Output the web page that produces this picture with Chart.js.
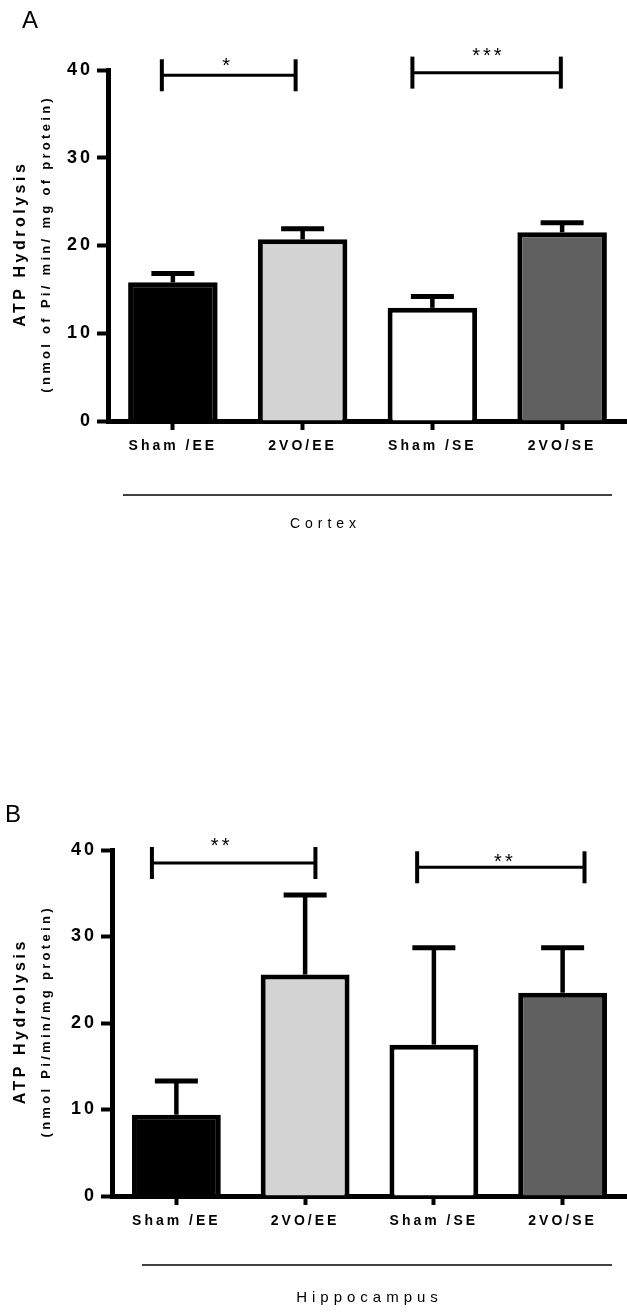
<!DOCTYPE html>
<html>
<head>
<meta charset="utf-8">
<script src="https://cdn.jsdelivr.net/npm/chart.js"></script>
<style>
    html, body { margin: 0; padding: 0; background: #fff; overflow: hidden; }
    canvas { position: absolute; left: 0; }
    #chartA { top: 0; }
    #chartB { top: 780px; }
</style>
</head>
<body>
<canvas id="chartA" width="627" height="560"></canvas>
<canvas id="chartB" width="627" height="533"></canvas>
<script>
// =============================================
//
// ATP hydrolysis bar charts (A: cortex, B: hippocampus)
//
// =============================================

const groups = ["Sham /EE", "2VO/EE", "Sham /SE", "2VO/SE"];
const barColors = ["#000000", "#d3d3d3", "#ffffff", "#606060"];

const cortexMean = [15.8, 20.7, 12.9, 21.5];
const cortexSem = [1.0, 1.2, 1.3, 1.1];

const hippoMean = [9.4, 25.6, 17.5, 23.5];
const hippoSem = [3.9, 9.2, 11.2, 5.2];

// significance brackets (from / to in category index, y in axis units)
const cortexSig = [
    { from: -0.085, to: 0.946, y: 39.4, labelX: 0.41, labelY: 41.0, text: "*" },
    { from: 1.846, to: 2.99, y: 39.7, labelX: 2.42, labelY: 42.2, text: "***" },
];
const hippoSig = [
    { from: -0.19, to: 1.08, y: 38.5, labelX: 0.34, labelY: 41.0, text: "**" },
    { from: 1.87, to: 3.17, y: 38.0, labelX: 2.54, labelY: 39.2, text: "**" },
];

const FONT = "'Liberation Sans', Arial, Helvetica, sans-serif";

function drawText(ctx, text, x, y, font, spacing, align) {
    ctx.font = font;
    ctx.letterSpacing = spacing + "px";
    ctx.textAlign = align || "center";
    ctx.textBaseline = "alphabetic";
    // trailing letter spacing pushes centred text left, shift it back
    const shift = align === "center" || !align ? spacing / 2 : 0;
    ctx.fillText(text, x + shift, y);
}

const errorBarPlugin = {
    id: "errorBars",
    afterDatasetsDraw(chart) {
        const ctx = chart.ctx;
        const yScale = chart.scales.y;
        const ds = chart.data.datasets[0];
        const meta = chart.getDatasetMeta(0);
        ctx.save();
        ctx.strokeStyle = "#000";
        meta.data.forEach((bar, i) => {
            const top = yScale.getPixelForValue(ds.data[i] + ds.errorBars[i]);
            ctx.lineWidth = 4.5;
            ctx.beginPath();
            ctx.moveTo(bar.x, bar.y);
            ctx.lineTo(bar.x, top);
            ctx.stroke();
            ctx.lineWidth = 5;
            ctx.beginPath();
            ctx.moveTo(bar.x - 21.5, top);
            ctx.lineTo(bar.x + 21.5, top);
            ctx.stroke();
        });
        ctx.restore();
    },
};

const decorPlugin = {
    id: "decor",
    beforeDraw(chart) {
        chart.ctx.letterSpacing = "3px";
    },
    afterDraw(chart, args, opts) {
        const { ctx, chartArea } = chart;
        const xScale = chart.scales.x;
        const yScale = chart.scales.y;
        const midY = (chartArea.top + chartArea.bottom) / 2;

        ctx.save();
        ctx.fillStyle = "#000";
        ctx.strokeStyle = "#000";

        // panel letter
        drawText(ctx, opts.panel, opts.panelX, opts.panelY, "24px " + FONT, 0, "left");

        // y axis titles
        ctx.save();
        ctx.translate(25, midY);
        ctx.rotate(-Math.PI / 2);
        drawText(ctx, "ATP Hydrolysis", 0, 0, "bold 16px " + FONT, 3.5);
        ctx.restore();
        ctx.save();
        ctx.translate(50, midY);
        ctx.rotate(-Math.PI / 2);
        drawText(ctx, opts.unit, 0, 0, "bold 13px " + FONT, 3.3);
        ctx.restore();

        // significance brackets
        opts.brackets.forEach((b) => {
            const x1 = xScale.getPixelForValue(b.from);
            const x2 = xScale.getPixelForValue(b.to);
            const yy = yScale.getPixelForValue(b.y);
            ctx.lineWidth = 3;
            ctx.beginPath();
            ctx.moveTo(x1, yy);
            ctx.lineTo(x2, yy);
            ctx.stroke();
            ctx.lineWidth = 4;
            [x1, x2].forEach((xx) => {
                ctx.beginPath();
                ctx.moveTo(xx, yy - 16);
                ctx.lineTo(xx, yy + 16);
                ctx.stroke();
            });
            const ly = yScale.getPixelForValue(b.labelY);
            drawText(ctx, b.text, xScale.getPixelForValue(b.labelX), ly + 11, "20px " + FONT, 3);
        });

        // group line + label under the x axis
        const lineY = chartArea.bottom + opts.lineOffset;
        ctx.lineWidth = 1.5;
        ctx.beginPath();
        ctx.moveTo(opts.lineFrom, lineY);
        ctx.lineTo(opts.lineTo, lineY);
        ctx.stroke();
        drawText(ctx, opts.group, opts.groupX, lineY + opts.groupOffset, opts.groupFont, 5);

        ctx.restore();
    },
};

function barConfig(means, sems, yWidth, xHeight, decor) {
    return {
        type: "bar",
        data: {
            labels: groups,
            datasets: [
                {
                    data: means,
                    errorBars: sems,
                    backgroundColor: barColors,
                    borderColor: "#000",
                    borderWidth: 5,
                    barPercentage: 0.69,
                    categoryPercentage: 1,
                },
            ],
        },
        options: {
            responsive: false,
            animation: false,
            layout: { padding: { top: 70, left: 0, right: 0, bottom: 0 } },
            plugins: {
                legend: { display: false },
                tooltip: { enabled: false },
                decor: decor,
            },
            scales: {
                x: {
                    z: 1,
                    afterFit: (s) => { s.height = xHeight; },
                    border: { display: true, color: "#000", width: 5 },
                    grid: {
                        display: true,
                        drawOnChartArea: false,
                        offset: false,
                        tickLength: 9,
                        tickWidth: 4,
                        tickColor: "#000",
                    },
                    ticks: {
                        color: "#000",
                        maxRotation: 0,
                        padding: 8,
                        font: { family: FONT, size: 14, weight: "bold" },
                    },
                },
                y: {
                    z: 1,
                    min: 0,
                    max: 40,
                    afterFit: (s) => { s.width = yWidth; },
                    border: { display: true, color: "#000", width: 5 },
                    grid: {
                        display: true,
                        drawOnChartArea: false,
                        tickLength: 11,
                        tickWidth: 4,
                        tickColor: "#000",
                    },
                    ticks: {
                        stepSize: 10,
                        color: "#000",
                        padding: 4,
                        font: { family: FONT, size: 18, weight: "bold" },
                    },
                },
            },
        },
        plugins: [errorBarPlugin, decorPlugin],
    };
}

new Chart(document.getElementById("chartA"), barConfig(cortexMean, cortexSem, 108, 139, {
    panel: "A",
    panelX: 22,
    panelY: 28,
    unit: "(nmol of Pi/ min/ mg of protein)",
    brackets: cortexSig,
    lineOffset: 74,
    lineFrom: 123,
    lineTo: 612,
    group: "Cortex",
    groupX: 323,
    groupOffset: 33,
    groupFont: "14px " + FONT,
}));

new Chart(document.getElementById("chartB"), barConfig(hippoMean, hippoSem, 112, 117, {
    panel: "B",
    panelX: 5,
    panelY: 42,
    unit: "(nmol Pi/min/mg protein)",
    brackets: hippoSig,
    lineOffset: 69,
    lineFrom: 142,
    lineTo: 612,
    group: "Hippocampus",
    groupX: 367,
    groupOffset: 37,
    groupFont: "15px " + FONT,
}));
</script>
</body>
</html>
